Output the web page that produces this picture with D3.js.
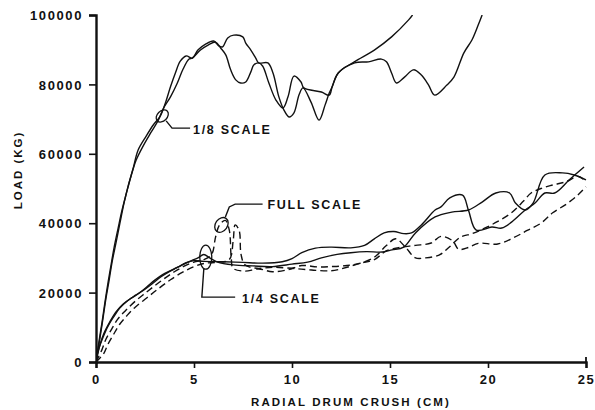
<!DOCTYPE html>
<html><head><meta charset="utf-8">
<script src="https://cdn.jsdelivr.net/npm/d3@7"></script>
<style>
body{margin:0;background:#fff;}
svg{display:block;}
text{font-family:"Liberation Sans",Arial,sans-serif;font-weight:bold;fill:#111;}
</style></head>
<body>
<svg id="chart" width="595" height="410"></svg>
<script>
// ---- data (x: radial drum crush, cm; y: load, kg) ----
const xTicks = [0, 5, 10, 15, 20, 25];
const yTicks = [0, 20000, 40000, 60000, 80000, 100000];

const eighthScaleA = [[0,0],[0.2,6900],[0.36,12700],[0.51,18400],[0.67,23600],[0.82,28800],[1.03,34600],[1.23,40300],[1.44,46100],[1.64,50700],[1.9,55900],[2.15,61100],[2.56,65100],[2.92,68300],[3.28,70900],[3.55,74800],[3.8,79300],[4.05,83300],[4.3,86700],[4.6,88200],[4.92,87600],[5.2,89900],[5.59,91600],[6.0,92500],[6.26,91100],[6.46,90800],[6.72,93400],[7.03,94200],[7.49,93700],[7.64,91900],[7.9,89900],[8.15,87600],[8.3,86200],[8.77,86200],[9.03,83300],[9.33,76400],[9.59,72600],[9.85,70600],[10.1,71800],[10.36,77000],[10.56,79000],[10.97,74900],[11.38,69700],[11.69,74100],[11.9,77500],[12.05,79300],[12.36,83300],[13.18,86500],[14.2,89900],[15.08,93700],[15.95,98600],[16.15,100000]];
const eighthScaleB = [[0,0],[0.15,5800],[0.31,11500],[0.46,17300],[0.62,23100],[0.77,28000],[0.92,32900],[1.13,38600],[1.33,43800],[1.54,48400],[1.79,53600],[2.05,58200],[2.41,62300],[2.82,66300],[3.18,69700],[3.45,73200],[3.8,76400],[4.15,80400],[4.45,84500],[4.75,87300],[4.92,87600],[5.33,89900],[5.74,91400],[6.1,92200],[6.36,90500],[6.62,88500],[6.87,84200],[7.13,81300],[7.38,80400],[7.64,80700],[7.9,83600],[8.05,85600],[8.3,86200],[8.5,85300],[8.82,80400],[9.18,75500],[9.54,73200],[9.8,76500],[10.1,82400],[10.46,80700],[10.6,79000],[11.5,77800],[11.9,76900],[12.05,79300],[12.36,83300],[13.2,86200],[13.9,86500],[14.56,87300],[14.82,86500],[15.08,83300],[15.33,80400],[15.74,82100],[16.2,84200],[16.6,82700],[16.97,79800],[17.28,76900],[17.9,79800],[18.26,82100],[18.77,89100],[19.18,92800],[19.5,97100],[19.7,100000]];
const quarterScaleA = [[0,0],[0.2,4900],[0.4,8200],[0.7,11500],[1.0,14300],[1.4,16800],[1.8,18400],[2.2,19800],[2.6,21700],[3.0,23600],[3.4,25200],[3.8,26300],[4.2,27400],[4.6,28600],[5.0,29200],[5.5,29000],[6.5,28900],[7.5,28700],[8.5,28500],[9.5,28900],[10.0,29800],[10.5,31500],[11.2,32800],[12.0,33100],[13.0,32900],[13.7,33600],[14.2,35500],[14.7,37200],[15.2,37600],[15.7,37000],[16.1,37200],[16.6,39500],[17.3,43800],[17.6,44700],[18.05,47300],[18.7,48100],[19.0,43800],[19.4,38000],[20.2,38900],[20.7,38600],[21.2,40300],[21.9,43800],[22.4,45800],[22.9,48700],[23.4,48700],[24.15,52500],[24.9,56200]];
const quarterScaleB = [[0,0],[0.15,4000],[0.35,7000],[0.6,10200],[0.9,13000],[1.2,15500],[1.6,17600],[2.0,19200],[2.5,21000],[2.9,22700],[3.3,24500],[3.7,25900],[4.1,27100],[4.5,28300],[4.9,29300],[5.2,30000],[5.5,31000],[5.8,30000],[6.2,28800],[7,28000],[8,27700],[9,27500],[10,28200],[10.8,28800],[11.5,30000],[12.3,31000],[13.0,31500],[13.8,31800],[14.6,31700],[15.1,32300],[15.7,33100],[16.3,37200],[17.3,41800],[18.15,43200],[19.0,43800],[19.7,46100],[20.4,48700],[21.1,48700],[21.4,45800],[21.9,43800],[22.3,45800],[22.9,53900],[23.8,54500],[24.4,53900],[25,52500]];
const fullScaleA = [[0,0],[0.3,3500],[0.5,6500],[0.8,9500],[1.1,12300],[1.5,14800],[2.0,17500],[2.5,19800],[3.0,22000],[3.5,24100],[4.0,26000],[4.5,27600],[5.0,28800],[5.5,29500],[5.9,31000],[6.1,36000],[6.3,39500],[6.6,40800],[6.8,38000],[6.9,30000],[7.0,27000],[7.6,26200],[8.3,26800],[9.0,26000],[9.8,26600],[10.5,27800],[11.3,27400],[12.0,27500],[12.8,27800],[13.5,28500],[14.2,30200],[14.8,33500],[15.3,35500],[15.8,33000],[16.3,30000],[16.8,30000],[17.5,30800],[18.0,33000],[18.6,36000],[19.2,37000],[19.8,38500],[20.5,40500],[21.2,43000],[21.8,46300],[22.2,48700],[22.7,50000],[23.3,51000],[24.0,52000],[24.6,53500],[25,52000]];
const fullScaleB = [[0,0],[0.4,2500],[0.6,5000],[0.9,8000],[1.2,10800],[1.6,13500],[2.0,15800],[2.6,18500],[3.2,21200],[3.8,23700],[4.4,25800],[5.0,27500],[5.6,28500],[6.2,28700],[6.8,29500],[7.0,35000],[7.1,39500],[7.3,38000],[7.4,31000],[7.6,28000],[8.2,27000],[9.0,27300],[10.0,27000],[11.0,26500],[12.0,26300],[12.8,27300],[13.5,28500],[14.2,29500],[14.8,32000],[15.5,33000],[16.3,33600],[17.1,34300],[17.6,36200],[18.2,34900],[18.5,32500],[19.0,33000],[19.5,34200],[20.5,34000],[21.3,35800],[22.0,37900],[22.7,40000],[23.3,43000],[24.0,45500],[24.6,48200],[25,50500]];

const seriesNames = ["1/8 SCALE", "1/8 SCALE", "1/4 SCALE", "1/4 SCALE", "FULL SCALE", "FULL SCALE"];
const seriesData = [eighthScaleA, eighthScaleB, quarterScaleA, quarterScaleB, fullScaleA, fullScaleB];
const seriesDashed = [false, false, false, false, true, true];

const xLabel = "RADIAL DRUM CRUSH  (CM)";
const yLabel = "LOAD  (KG)";

// ---- layout ----
const svg = d3.select("#chart");
const x = d3.scaleLinear().domain([0, 25]).range([96, 586]);
const y = d3.scaleLinear().domain([0, 100000]).range([362, 15]);

const ink = "#111";

// axes
const xAxis = svg.append("g").attr("transform", `translate(0,${y(0)})`)
  .call(d3.axisBottom(x).tickValues(xTicks).tickSize(6).tickPadding(6).tickFormat(d3.format("d")));
const yAxis = svg.append("g").attr("transform", `translate(${x(0)},0)`)
  .call(d3.axisLeft(y).tickValues(yTicks).tickSize(7).tickPadding(6).tickFormat(d3.format("d")));
[xAxis, yAxis].forEach(g => {
  g.select(".domain").attr("stroke", ink).attr("stroke-width", 2.4);
  g.selectAll(".tick line").attr("stroke", ink).attr("stroke-width", 1.6);
  g.selectAll(".tick text").attr("fill", ink)
    .style("font-family", '"Liberation Sans",Arial,sans-serif')
    .style("font-weight", "bold").style("font-size", "13px").style("letter-spacing", "1.6px");
});
yAxis.selectAll(".tick text").attr("dy", "0.36em");
xAxis.selectAll(".tick text").attr("dy", "0.75em");

// little upturn at the right end of the x axis
svg.append("line").attr("x1", x(25)).attr("x2", x(25)).attr("y1", y(0) - 5).attr("y2", y(0))
  .attr("stroke", ink).attr("stroke-width", 1.8);

// curves
const line = d3.line().x(d => x(d[0])).y(d => y(d[1])).curve(d3.curveCatmullRom.alpha(0.5));
const clip = svg.append("clipPath").attr("id", "plotclip").append("rect")
  .attr("x", x(0)).attr("y", y(100000)).attr("width", x(25) - x(0) + 4).attr("height", y(0) - y(100000));
svg.append("g").attr("clip-path", "url(#plotclip)")
  .selectAll("path").data(seriesData).join("path")
  .attr("d", d => line(d))
  .attr("fill", "none").attr("stroke", ink).attr("stroke-width", 1.4)
  .attr("stroke-linejoin", "round")
  .attr("stroke-dasharray", (d, i) => seriesDashed[i] ? "7,4" : null);

// annotations (ellipse centre in data units; leader points in data units)
const annotations = [
  { label: "1/8 SCALE", cx: 3.38, cy: 70900, rx: 7, ry: 5, rot: -45,
    leader: [[3.58, 69500], [3.88, 67400], [4.8, 67400]], tx: 4.95 , ty: 67100 },
  { label: "FULL SCALE", cx: 6.4, cy: 39500, rx: 6, ry: 8, rot: 35,
    leader: [[6.6, 41800], [6.8, 44700], [7.1, 45500], [8.5, 45500]], tx: 8.75, ty: 45300 },
  { label: "1/4 SCALE", cx: 5.6, cy: 30200, rx: 6, ry: 12, rot: 0,
    leader: [[5.5, 26800], [5.4, 18700], [7.1, 18700]], tx: 7.45, ty: 18400 }
];
const ann = svg.append("g");
annotations.forEach(a => {
  ann.append("ellipse").attr("cx", 0).attr("cy", 0).attr("rx", a.rx).attr("ry", a.ry)
    .attr("transform", `translate(${x(a.cx)},${y(a.cy)}) rotate(${a.rot})`)
    .attr("fill", "none").attr("stroke", ink).attr("stroke-width", 1.3);
  ann.append("path").attr("d", d3.line().x(d => x(d[0])).y(d => y(d[1]))(a.leader))
    .attr("fill", "none").attr("stroke", ink).attr("stroke-width", 1.4);
  ann.append("text").attr("x", x(a.tx)).attr("y", y(a.ty)).attr("dy", "0.36em")
    .style("font-size", "12.5px").style("letter-spacing", "1.7px").text(a.label);
});

// axis titles
svg.append("text").attr("x", (x(0) + x(25)) / 2 + 10).attr("y", 402).attr("dy", "0.36em")
  .attr("text-anchor", "middle").style("font-size", "11.5px").style("letter-spacing", "2.1px").text(xLabel);
svg.append("text").attr("transform", `translate(18,${170}) rotate(-90)`).attr("dy", "0.36em")
  .attr("text-anchor", "middle").style("font-size", "11.5px").style("letter-spacing", "2px").text(yLabel);
</script>
</body></html>
